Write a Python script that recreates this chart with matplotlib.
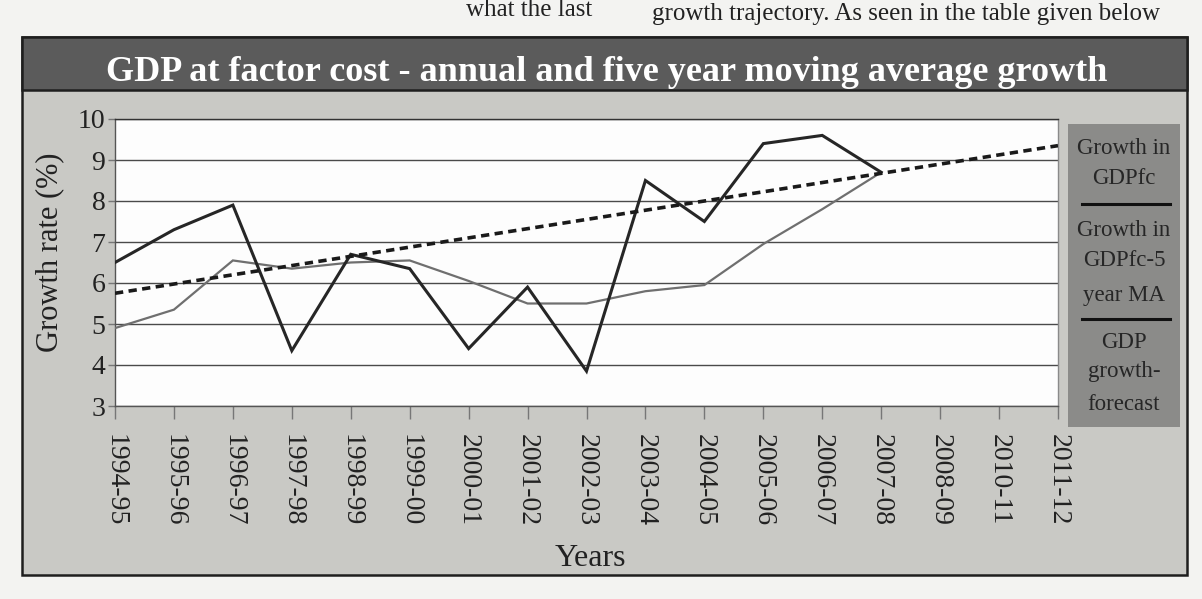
import matplotlib
matplotlib.use("Agg")
import matplotlib.pyplot as plt
from matplotlib.patches import Rectangle
from matplotlib.lines import Line2D

plt.rcParams["font.family"] = ["Liberation Serif", "DejaVu Serif"]

# ---- data -------------------------------------------------------------
years = ["1994-95", "1995-96", "1996-97", "1997-98", "1998-99", "1999-00",
         "2000-01", "2001-02", "2002-03", "2003-04", "2004-05", "2005-06",
         "2006-07", "2007-08", "2008-09", "2010-11", "2011-12"]

# annual growth of GDP at factor cost (%)
gdp_growth = [6.5, 7.3, 7.9, 4.35, 6.7, 6.35, 4.4, 5.9, 3.85, 8.5, 7.5,
              9.4, 9.6, 8.7]
# five year moving average of the annual growth (%)
ma_growth = [4.9, 5.35, 6.55, 6.35, 6.5, 6.55, 6.05, 5.5, 5.5, 5.8, 5.95,
             6.95, 7.8, 8.7]
# linear growth forecast, start and end of the range (%)
forecast_years = ["1994-95", "2011-12"]
forecast_growth = [5.75, 9.35]

title = "GDP at factor cost - annual and five year moving average growth"
legend_labels = [["Growth in", "GDPfc"],
                 ["Growth in", "GDPfc-5", "year MA"],
                 ["GDP", "growth-", "forecast"]]

# ---- figure in pixel units ---------------------------------------------
W, H = 1202, 599
fig = plt.figure(figsize=(W / 100, H / 100), dpi=100)
fig.patch.set_facecolor("#f3f3f1")


def fx(x):
    return x / W


def fy(y):
    return 1 - y / H


def box(x0, y0, x1, y1, z=-1, **kw):
    fig.add_artist(Rectangle((fx(x0), fy(y1)), fx(x1) - fx(x0),
                             fy(y0) - fy(y1), transform=fig.transFigure,
                             zorder=z, **kw))


# running text of the page around the chart
fig.text(fx(592), fy(16), "what the last", ha="right", va="baseline",
         fontsize=18, color="#222222")
fig.text(fx(652), fy(20), "growth trajectory. As seen in the table given below",
         ha="left", va="baseline", fontsize=18, color="#222222")

# grey panel, dark title band
box(22, 37, 1187, 575, facecolor="#c9c9c5", edgecolor="#1e1e1e", lw=1.8)
box(22, 37, 1187, 90, facecolor="#5b5b5b", edgecolor="#1e1e1e", lw=1.8)
fig.text(fx(607), fy(81), title, ha="center", va="baseline", color="white",
         fontsize=26, fontweight="bold")

# ---- plot ---------------------------------------------------------------
ax = fig.add_axes([fx(115), fy(406), fx(1058) - fx(115), fy(119) - fy(406)])
ax.set_zorder(2)
ax.set_facecolor("#fdfdfd")
x_idx = list(range(len(years)))

ax.plot(x_idx[:len(ma_growth)], ma_growth, color="#6f6f6f", lw=1.6,
        zorder=3, solid_joinstyle="miter")
ax.plot(x_idx[:len(gdp_growth)], gdp_growth, color="#262626", lw=2.2,
        zorder=4, solid_joinstyle="miter")
ax.plot([years.index(y) for y in forecast_years], forecast_growth,
        color="#1a1a1a", lw=2.6, linestyle=(0, (2.3, 1.5)),
        dash_capstyle="butt", zorder=5)

ax.set_xlim(0, len(years) - 1)
ax.set_ylim(3, 10)
ax.set_yticks(range(3, 11))
ax.set_xticks(x_idx)
ax.set_xticklabels(years, rotation=270, fontsize=20, color="#222222")
ax.tick_params(axis="x", direction="out", length=9, width=1, color="#777777",
               pad=11)
ax.tick_params(axis="y", direction="out", length=5, width=1, color="#777777",
               pad=2, labelsize=20, labelcolor="#222222")
ax.yaxis.grid(True, color="#4a4a4a", lw=1.0)
ax.set_axisbelow(True)
for side, col in (("left", "#555555"), ("bottom", "#555555"),
                  ("top", "#333333"), ("right", "#8a8a8a")):
    ax.spines[side].set_color(col)
    ax.spines[side].set_linewidth(1.0)

fig.text(fx(50), fy(252), "Growth rate (%)", rotation=90, ha="center",
         va="center", fontsize=22, color="#222222")
fig.text(fx(590), fy(558), "Years", ha="center", va="center", fontsize=23,
         color="#222222")

# ---- legend panel ---------------------------------------------------------
lx0, lx1, ly0 = 1068, 1180, 124
box(lx0, ly0, lx1, ly0 + 303, z=1, facecolor="#8b8b89", edgecolor="none")
lcx = (lx0 + lx1) / 2
line_offsets = [[25, 55], [107, 137, 172], [218, 248, 280]]
sep_offsets = [80, 195]
for labels, offs in zip(legend_labels, line_offsets):
    for lab, off in zip(labels, offs):
        fig.text(fx(lcx), fy(ly0 + off), lab, ha="center", va="center",
                 fontsize=16.5, color="#262626")
for off in sep_offsets:
    fig.add_artist(Line2D([fx(lx0 + 14), fx(lx1 - 10)],
                          [fy(ly0 + off), fy(ly0 + off)],
                          transform=fig.transFigure, color="#111111", lw=2.2))

fig.savefig("out.png", dpi=100, facecolor=fig.get_facecolor())
